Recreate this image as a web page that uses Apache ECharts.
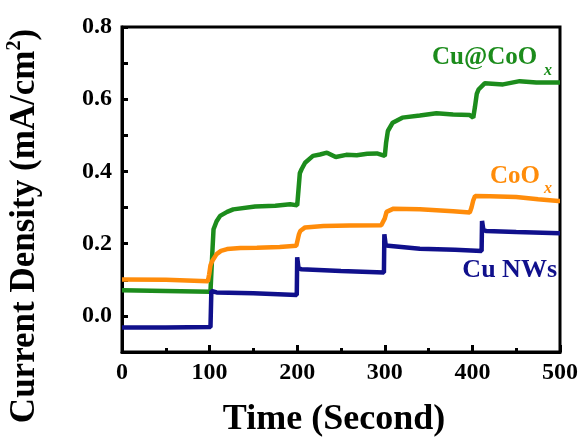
<!DOCTYPE html>
<html>
<head>
<meta charset="utf-8">
<script src="https://cdn.jsdelivr.net/npm/echarts@6.0.0/dist/echarts.min.js"></script>
<style>
	html, body { margin: 0; padding: 0; background: #fff; }
	#chart { width: 582px; height: 438px; }
</style>
</head>
<body>
<div id="chart"></div>
<script>
// tick values
var yTicks = [0, 0.1, 0.2, 0.3, 0.4, 0.5, 0.6, 0.7, 0.8];
var yLabels = [0, 0.2, 0.4, 0.6, 0.8];

// Cu@CoOx
var cuCoOxTime = [0, 50, 101, 103, 104.5, 108, 112, 120, 127, 152, 175, 192, 200, 201.5, 203, 205, 209, 218, 226, 234, 244, 256, 268, 280, 291, 300, 301.5, 303.5, 309, 320, 340, 359, 378, 397, 401, 403, 405, 407, 414, 435, 454, 473, 498, 500];
var cuCoOxJ = [0.071, 0.069, 0.067, 0.17, 0.24, 0.262, 0.277, 0.288, 0.295, 0.303, 0.305, 0.309, 0.306, 0.35, 0.395, 0.406, 0.424, 0.443, 0.447, 0.452, 0.44, 0.446, 0.445, 0.449, 0.45, 0.443, 0.48, 0.512, 0.535, 0.549, 0.555, 0.561, 0.558, 0.556, 0.549, 0.58, 0.615, 0.627, 0.644, 0.641, 0.65, 0.646, 0.646, 0.646];

// CoOx
var coOxTime = [0, 50, 98, 99.5, 101, 103, 108, 113, 120, 135, 154, 180, 199, 200.5, 202, 203.5, 209, 230, 260, 296, 298, 300, 302, 310, 340, 378, 397, 399, 401, 403, 420, 450, 475, 498, 500];
var coOxJ = [0.101, 0.1, 0.096, 0.115, 0.14, 0.152, 0.171, 0.18, 0.185, 0.188, 0.189, 0.191, 0.194, 0.21, 0.226, 0.235, 0.245, 0.249, 0.25, 0.251, 0.254, 0.27, 0.288, 0.297, 0.295, 0.29, 0.286, 0.3, 0.32, 0.332, 0.331, 0.329, 0.323, 0.318, 0.318];

// Cu NWs
var cuNWsTime = [0, 50, 101, 102, 108, 150, 199.5, 200, 201.5, 205, 250, 299, 299.5, 301, 304, 340, 380, 410.5, 411, 412.5, 416, 450, 500];
var cuNWsJ = [-0.032, -0.032, -0.031, 0.069, 0.065, 0.063, 0.058, 0.162, 0.132, 0.129, 0.124, 0.12, 0.226, 0.196, 0.194, 0.186, 0.183, 0.18, 0.263, 0.238, 0.235, 0.232, 0.229];

var FONT = '"Liberation Serif", "Times New Roman", serif';
var GREEN = '#1c8c1c', ORANGE = '#ff8c0a', BLUE = '#10108c';

function axisLine()
{
	return {show: true, onZero: false, lineStyle: {color: '#000', width: 3}};
}

function zip(t, v)
{
	return t.map(function (x, i) { return [x, v[i]]; });
}

function lineSeries(name, data, color)
{
	return {
		name: name,
		type: 'line',
		data: data,
		showSymbol: false,
		symbol: 'none',
		lineStyle: {color: color, width: 4.5},
		z: 3
	};
}

var option = {
	animation: false,
	backgroundColor: '#fff',
	title: {text: ''},
	grid: {
		left: 122, right: 22, top: 27, bottom: 86,
		show: true, borderColor: '#000', borderWidth: 3, backgroundColor: 'transparent'
	},
	xAxis: {
		type: 'value',
		position: 'bottom',
		min: 0, max: 500, interval: 100,
		axisLine: axisLine(),
		axisTick: {show: true, inside: true, length: 7, lineStyle: {color: '#000', width: 3}},
		minorTick: {show: true, splitNumber: 2, length: 4, lineStyle: {color: '#000', width: 3}},
		axisLabel: {
			show: true, margin: 9, color: '#000', fontFamily: FONT, fontWeight: 'bold', fontSize: 24
		},
		splitLine: {show: false},
		minorSplitLine: {show: false}
	},
	yAxis: {
		type: 'value',
		position: 'left',
		min: -0.1, max: 0.8,
		axisLine: axisLine(),
		axisTick: {show: true, inside: true, length: 6, lineStyle: {color: '#000', width: 3}, customValues: yTicks},
		axisLabel: {
			show: true, customValues: yLabels,
			margin: 10, color: '#000', fontFamily: FONT, fontWeight: 'bold', fontSize: 24,
			formatter: function (v) { return v.toFixed(1); }
		},
		splitLine: {show: false}
	},
	series: [
		lineSeries('Cu@CoOx', zip(cuCoOxTime, cuCoOxJ), GREEN),
		lineSeries('CoOx', zip(coOxTime, coOxJ), ORANGE),
		lineSeries('Cu NWs', zip(cuNWsTime, cuNWsJ), BLUE)
	],
	graphic: [
		{type: 'text', x: 432, y: 58, z: 10, style: {text: 'Cu@CoO', fill: GREEN, font: 'bold 25px ' + FONT, textVerticalAlign: 'middle'}},
		{type: 'text', x: 544, y: 71, z: 10, style: {text: 'x', fill: GREEN, font: 'italic bold 16px ' + FONT, textVerticalAlign: 'middle'}},
		{type: 'text', x: 490, y: 176.5, z: 10, style: {text: 'CoO', fill: ORANGE, font: 'bold 25px ' + FONT, textVerticalAlign: 'middle'}},
		{type: 'text', x: 544, y: 189, z: 10, style: {text: 'x', fill: ORANGE, font: 'italic bold 16px ' + FONT, textVerticalAlign: 'middle'}},
		{type: 'text', x: 557, y: 270, z: 10, style: {text: 'Cu NWs', fill: BLUE, font: 'bold 26px ' + FONT, textAlign: 'right', textVerticalAlign: 'middle'}},
		{type: 'text', x: 334, y: 420, z: 10, style: {text: 'Time (Second)', fill: '#000', font: 'bold 36px ' + FONT, textAlign: 'center', textVerticalAlign: 'middle'}},
		{
			type: 'text', x: 25, y: 226, rotation: Math.PI / 2, z: 10,
			style: {
				text: '{a|Current Density (mA/cm}{b|2}{a|)}',
				fill: '#000', textAlign: 'center', textVerticalAlign: 'middle',
				rich: {
					a: {fontFamily: FONT, fontWeight: 'bold', fontSize: 35, lineHeight: 40, verticalAlign: 'middle', fill: '#000'},
					b: {fontFamily: FONT, fontWeight: 'bold', fontSize: 20, lineHeight: 20, verticalAlign: 'top', fill: '#000'}
				}
			}
		}
	]
};

var chart = echarts.init(document.getElementById('chart'));
chart.setOption(option);
chart.setOption(option, true);
</script>
</body>
</html>
